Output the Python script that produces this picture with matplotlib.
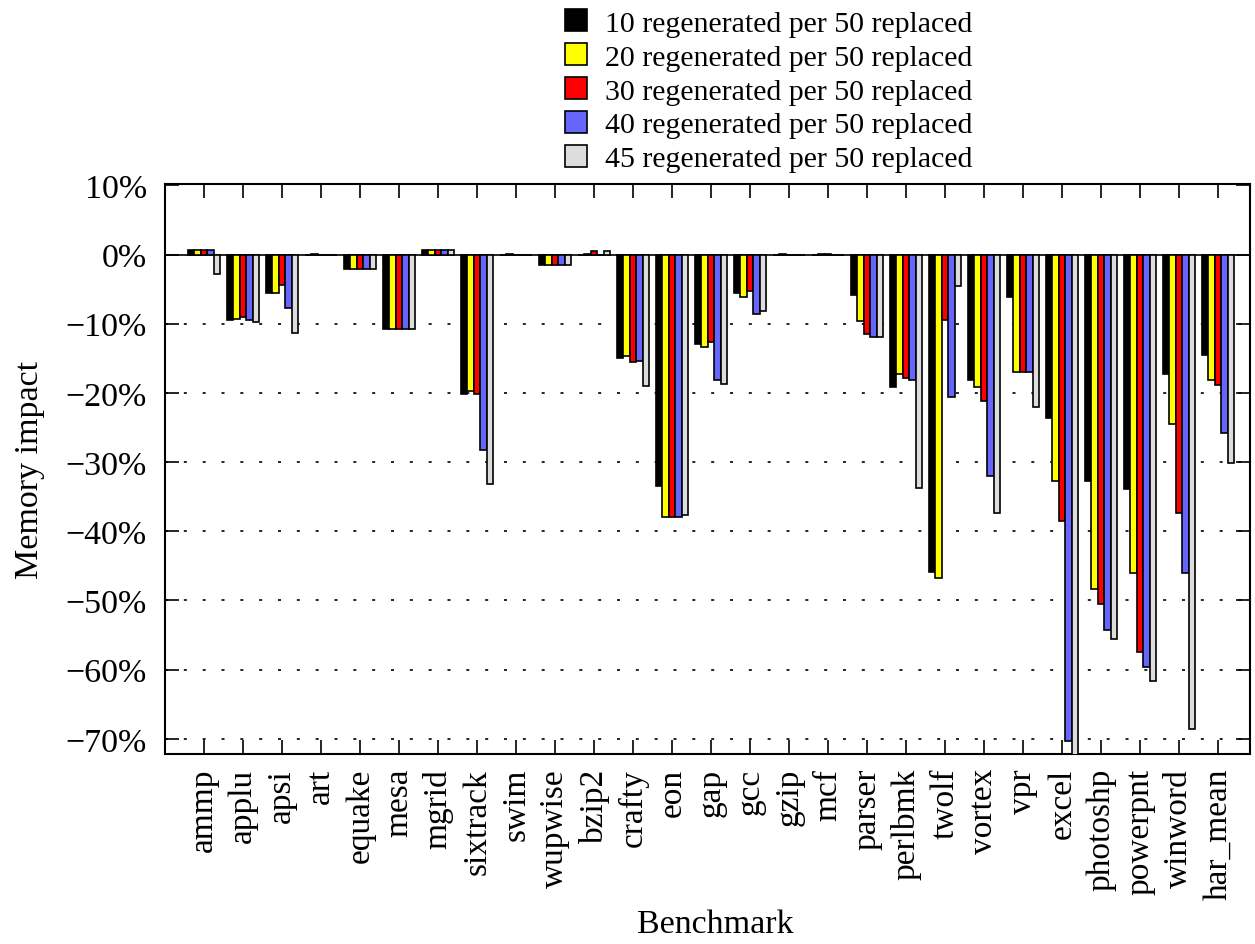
import matplotlib
matplotlib.use("Agg")
import matplotlib.pyplot as plt
import numpy as np
from matplotlib.patches import Patch

plt.rcParams['font.family'] = ['Liberation Serif', 'DejaVu Serif']

categories = ["ammp", "applu", "apsi", "art", "equake", "mesa", "mgrid", "sixtrack",
              "swim", "wupwise", "bzip2", "crafty", "eon", "gap", "gcc", "gzip", "mcf",
              "parser", "perlbmk", "twolf", "vortex", "vpr", "excel", "photoshp",
              "powerpnt", "winword", "har_mean"]

s10 = [0.6, -9.4, -5.6, 0.0, -2.1, -10.7, 0.6, -20.2, 0.0, -1.5, 0.0, -14.9, -33.4, -12.9,
       -5.6, 0.0, 0.0, -5.9, -19.1, -45.9, -18.2, -6.2, -23.6, -32.7, -33.9, -17.3, -14.5]
s20 = [0.6, -9.3, -5.5, 0.05, -2.1, -10.7, 0.6, -19.7, 0.05, -1.5, 0.05, -14.6, -38.0, -13.3,
       -6.1, 0.05, 0.05, -9.6, -17.3, -46.8, -19.2, -17.0, -32.7, -48.4, -46.0, -24.5, -18.2]
s30 = [0.6, -9.0, -4.4, 0.0, -2.1, -10.7, 0.6, -20.1, 0.0, -1.5, 0.5, -15.6, -38.0, -12.6,
       -5.3, 0.0, 0.05, -11.5, -17.9, -9.4, -21.1, -17.0, -38.5, -50.5, -57.4, -37.4, -18.8]
s40 = [0.6, -9.4, -7.7, 0.0, -2.1, -10.7, 0.6, -28.3, 0.0, -1.5, 0.0, -15.4, -38.0, -18.1,
       -8.6, 0.0, 0.0, -11.9, -18.1, -20.6, -32.0, -17.0, -70.3, -54.3, -59.6, -46.0, -25.8]
s45 = [-2.8, -9.8, -11.4, 0.0, -2.1, -10.7, 0.6, -33.2, 0.0, -1.5, 0.5, -19.0, -37.7, -18.7,
       -8.2, 0.0, 0.0, -11.9, -33.7, -4.5, -37.4, -22.0, -73.0, -55.6, -61.6, -68.6, -30.2]

series = [s10, s20, s30, s40, s45]
labels = ["10 regenerated per 50 replaced", "20 regenerated per 50 replaced",
          "30 regenerated per 50 replaced", "40 regenerated per 50 replaced",
          "45 regenerated per 50 replaced"]
colors = ["#000000", "#ffff00", "#ff0000", "#6666ff", "#dddddd"]

yticks = [10, 0, -10, -20, -30, -40, -50, -60, -70]

fig = plt.figure(figsize=(12.55, 9.45), dpi=100)
ax = fig.add_axes([165/1255, 1-755/945, (1250-165)/1255, (755-185)/945])

x = np.arange(1, len(categories) + 1)
w = 0.165
for k, (vals, c) in enumerate(zip(series, colors)):
    ax.bar(x + (k - 2) * w, vals, width=w, color=c, edgecolor="black",
           linewidth=1.2, zorder=3)

ax.axhline(0, color="black", linewidth=1.2, zorder=2)
for yv in yticks:
    if yv < 0:
        ax.axhline(yv, color="black", linewidth=1.2, linestyle=(0, (1.8, 9.5)), zorder=1)

ax.set_xlim(0, 27.82)
ax.set_ylim(-72.2, 10.2)
ax.set_yticks(yticks)
ax.set_yticklabels([("\u2212%d%%" % -v) if v < 0 else "%d%%" % v for v in yticks], fontsize=24.5)
ax.set_xticks(x)
ax.set_xticklabels(categories, rotation=90, fontsize=24)
ax.tick_params(direction="in", length=10, width=1.2, top=True, right=True)
ax.tick_params(axis="y", pad=13)
ax.tick_params(axis="x", pad=10)
for s in ax.spines.values():
    s.set_linewidth(1.5)

fig.text(30/1255, 1-470/945, "Memory impact", fontsize=24.5, rotation=90,
         ha="center", va="center")
fig.text(715/1255, 1-925/945, "Benchmark", fontsize=24.5, ha="center", va="center")

handles = [Patch(facecolor=c, edgecolor="black", linewidth=1.2) for c in colors]
fig.legend(handles, labels, loc="upper left", bbox_to_anchor=(547/1255, 1.008),
           frameon=False, fontsize=21.5, handlelength=0.75, handleheight=0.75,
           handletextpad=0.6, labelspacing=0.22, borderaxespad=0.2)

fig.savefig("out.png", dpi=100)
